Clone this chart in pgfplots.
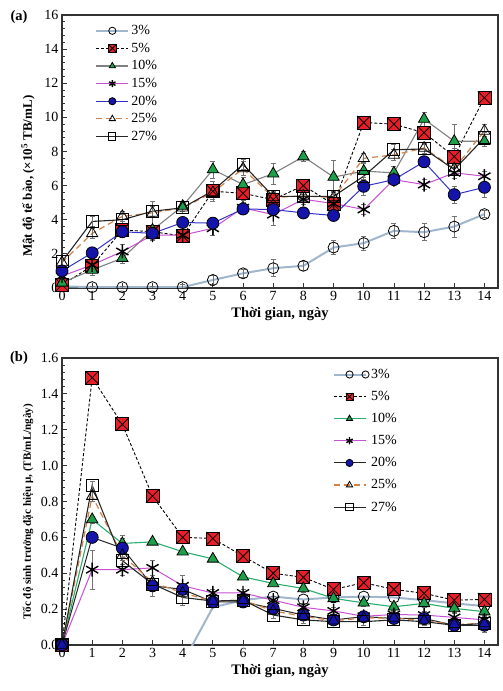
\documentclass[border=0pt]{standalone}
\usepackage{fontspec}
\setmainfont{Liberation Serif}
\usepackage{pgfplots}
\usepackage{pgfplotstable}
\pgfplotsset{compat=1.18}

\definecolor{c3}{RGB}{160,182,205}
\definecolor{cred}{RGB}{232,30,40}
\definecolor{cgreen}{RGB}{30,160,75}
\definecolor{cgl}{RGB}{40,175,110}
\definecolor{cmag}{RGB}{200,80,210}
\definecolor{cblue}{RGB}{20,20,170}
\definecolor{cbl}{RGB}{50,50,200}
\definecolor{corange}{RGB}{210,130,70}
\definecolor{cgray}{RGB}{128,128,128}

\pgfdeclareplotmark{sqx}{%
  \pgfpathrectangle{\pgfqpoint{-\pgfplotmarksize}{-\pgfplotmarksize}}{\pgfqpoint{2\pgfplotmarksize}{2\pgfplotmarksize}}%
  \pgfusepathqfillstroke
  \pgfpathmoveto{\pgfqpoint{-\pgfplotmarksize}{-\pgfplotmarksize}}%
  \pgfpathlineto{\pgfqpoint{\pgfplotmarksize}{\pgfplotmarksize}}%
  \pgfpathmoveto{\pgfqpoint{-\pgfplotmarksize}{\pgfplotmarksize}}%
  \pgfpathlineto{\pgfqpoint{\pgfplotmarksize}{-\pgfplotmarksize}}%
  \pgfusepathqstroke}

\pgfplotstableread{
x a3 e3 a5 e5 a10 e10 a15 e15 a20 e20 a25 e25 a27 e27
0 0.10 0.05 0.18 0.1 0.30 0.1 0.70 0.1 1.00 0.2 1.50 0.2 1.55 0.2
1 0.05 0.05 1.30 0.3 1.06 0.3 1.35 0.3 2.06 0.3 3.20 0.3 3.90 0.3
2 0.05 0.05 3.40 0.3 1.75 0.3 2.14 0.4 3.30 0.3 4.20 0.3 4.00 0.3
3 0.05 0.05 3.30 0.3 3.40 0.3 3.10 0.3 3.20 0.3 4.40 0.7 4.50 0.3
4 0.05 0.15 3.05 0.3 4.80 0.3 3.10 0.3 3.84 0.3 4.70 0.3 4.70 0.3
5 0.47 0.30 5.67 0.6 6.94 0.5 3.50 0.4 3.80 0.3 5.60 0.4 5.70 0.4
6 0.86 0.25 5.55 0.4 6.06 0.4 4.70 0.3 4.63 0.3 7.00 0.4 7.24 0.3
7 1.16 0.50 5.18 0.4 6.70 0.6 4.30 0.6 4.60 0.9 5.30 0.4 5.37 0.3
8 1.30 0.25 6.00 0.3 7.70 0.3 5.20 0.3 4.40 0.3 5.40 0.3 5.37 0.3
9 2.37 0.40 4.90 0.4 6.50 1.0 4.95 0.3 4.25 0.3 5.30 0.3 5.37 0.3
10 2.63 0.40 9.70 0.3 6.85 0.5 4.60 0.3 5.96 0.5 7.60 0.3 6.55 0.3
11 3.35 0.45 9.60 0.3 6.75 0.4 6.35 0.3 6.35 0.3 7.80 0.3 8.10 0.3
12 3.27 0.50 9.10 0.4 9.90 0.4 6.06 0.3 7.40 0.3 8.20 0.3 8.15 0.3
13 3.60 0.60 7.70 0.5 8.60 1.0 6.75 0.3 5.47 0.5 7.00 0.3 6.94 0.3
14 4.33 0.20 11.15 0.3 8.60 0.3 6.55 0.3 5.90 0.6 9.20 0.4 8.80 0.3
}\topdata

\pgfplotstableread{
x b3
4 -0.10
5 0.21
6 0.25
7 0.27
8 0.254
9 0.265
10 0.27
11 0.265
12 0.25
13 0.232
14 0.217
}\botthree

\pgfplotstableread{
x b5 e5 b10 e10 b15 e15 b20 e20 b25 e25 b27 e27
0 0 0 0 0 0 0 0 0 0 0 0 0
1 1.49 0.01 0.70 0.02 0.42 0.11 0.60 0.02 0.83 0.03 0.89 0.02
2 1.23 0.01 0.566 0.03 0.42 0.03 0.54 0.07 0.50 0.03 0.47 0.02
3 0.83 0.01 0.575 0.01 0.43 0.04 0.33 0.06 0.35 0.02 0.34 0.02
4 0.60 0.01 0.52 0.01 0.33 0.06 0.31 0.03 0.29 0.02 0.265 0.045
5 0.594 0.01 0.48 0.01 0.29 0.02 0.24 0.02 0.245 0.02 0.245 0.02
6 0.495 0.01 0.38 0.01 0.29 0.02 0.24 0.02 0.25 0.02 0.25 0.02
7 0.40 0.01 0.343 0.01 0.25 0.02 0.204 0.02 0.19 0.02 0.167 0.02
8 0.377 0.01 0.315 0.02 0.21 0.02 0.167 0.02 0.16 0.02 0.14 0.02
9 0.31 0.01 0.26 0.02 0.19 0.02 0.14 0.02 0.135 0.02 0.13 0.02
10 0.347 0.01 0.235 0.02 0.16 0.02 0.158 0.02 0.15 0.02 0.13 0.02
11 0.31 0.01 0.213 0.02 0.17 0.02 0.148 0.02 0.15 0.02 0.14 0.02
12 0.288 0.01 0.232 0.02 0.167 0.02 0.148 0.02 0.135 0.02 0.13 0.02
13 0.25 0.01 0.204 0.02 0.154 0.02 0.11 0.02 0.115 0.02 0.11 0.02
14 0.254 0.01 0.186 0.02 0.14 0.02 0.11 0.04 0.12 0.02 0.12 0.02
}\botdata

\pgfplotsset{
  common/.style={
    scale only axis, width=436pt,
    xmin=0, xmax=14.45, xtick={0,...,14},
    axis line style={black!80, line width=1.1pt},
    tick style={black!80, line width=0.8pt},
    major tick length=5pt, minor tick length=3pt,
    xtick pos=bottom, ytick pos=left, tick align=inside,
    minor y tick num=4,
    ticklabel style={font=\fontsize{14}{16}\selectfont},
    /pgf/number format/assume math mode=true,
    xlabel={Thời gian, ngày},
    xlabel style={font=\fontsize{14.5}{16}\selectfont\bfseries},
    legend cell align=left,
    legend image code/.code={\draw[mark repeat=2,mark phase=2,##1,mark size=3.6pt] plot coordinates {(0pt,0pt) (16pt,0pt) (32pt,0pt)};},
    eb/.style={error bars/.cd, y dir=both, y explicit,
      error bar style={black!55, line width=0.6pt, solid},
      error mark options={rotate=90, mark size=2.5pt, black!55, line width=0.6pt, solid}},
    s3/.style={color=c3, line width=2pt, mark=o, mark size=5.5pt, mark options={draw=black, line width=0.8pt, solid}},
    s5/.style={color=black, densely dashed, line width=0.9pt, mark=sqx, mark size=6.5pt, mark options={fill=cred, draw=black, line width=0.8pt, solid}},
    s15/.style={color=cmag, line width=1pt, mark=asterisk, mark size=7pt, mark options={draw=black, line width=1.4pt, solid}},
    s25/.style={color=corange, dash pattern=on 6pt off 4pt, line width=1.2pt, mark=triangle, mark size=6.5pt, mark options={draw=black, line width=0.8pt, solid}},
    s27/.style={color=black!85, line width=1.1pt, mark=square, mark size=6pt, mark options={draw=black, line width=0.9pt, solid}},
  }
}

\begin{document}
\begin{tikzpicture}
\path[use as bounding box] (0pt,0pt) rectangle (503pt,691pt);

\begin{axis}[common, at={(62pt,403pt)}, anchor=south west, height=273pt,
  ymin=0, ymax=16, ytick={0,2,...,16},
  legend style={at={(axis description cs:0.076,0.97)}, anchor=north west, draw=none, fill=none,
    font=\fontsize{14}{16}\selectfont, row sep=2.8pt, inner sep=0pt},
]
\addplot[s3, eb] table[x=x, y=a3, y error=e3] {\topdata};
\addlegendentry{3\%}
\addplot[s5, eb] table[x=x, y=a5, y error=e5] {\topdata};
\addlegendentry{5\%}
\addplot[color=cgray, line width=1.1pt, mark=triangle*, mark size=6.5pt, mark options={fill=cgreen, draw=black, line width=0.8pt, solid}, eb] table[x=x, y=a10, y error=e10] {\topdata};
\addlegendentry{10\%}
\addplot[s15, eb] table[x=x, y=a15, y error=e15] {\topdata};
\addlegendentry{15\%}
\addplot[color=cbl, line width=1pt, mark=*, mark size=6pt, mark options={fill=cblue, draw=black, line width=0.8pt, solid}, eb] table[x=x, y=a20, y error=e20] {\topdata};
\addlegendentry{20\%}
\addplot[s25, eb] table[x=x, y=a25, y error=e25] {\topdata};
\addlegendentry{25\%}
\addplot[s27, eb] table[x=x, y=a27, y error=e27] {\topdata};
\addlegendentry{27\%}
\end{axis}

\begin{axis}[common, at={(62pt,46pt)}, anchor=south west, height=287pt,
  ymin=0, ymax=1.6, ytick={0,0.2,...,1.6},
  yticklabel style={/pgf/number format/.cd, fixed, fixed zerofill, precision=1},
  legend style={at={(axis description cs:0.62,0.969)}, anchor=north west, draw=none, fill=none,
    font=\fontsize{14}{16}\selectfont, row sep=7.3pt, inner sep=0pt},
]
\addplot[s3, mark indices={2,...,11}] table[x=x, y=b3] {\botthree};
\addlegendentry{3\%}
\addplot[s5, eb] table[x=x, y=b5, y error=e5] {\botdata};
\addlegendentry{5\%}
\addplot[color=cgl, line width=1.1pt, mark=triangle*, mark size=6.5pt, mark options={fill=cgreen, draw=black, line width=0.8pt, solid}, eb] table[x=x, y=b10, y error=e10] {\botdata};
\addlegendentry{10\%}
\addplot[s15, eb] table[x=x, y=b15, y error=e15] {\botdata};
\addlegendentry{15\%}
\addplot[color=black!85, line width=1pt, mark=*, mark size=6pt, mark options={fill=cblue, draw=black, line width=0.8pt, solid}, eb] table[x=x, y=b20, y error=e20] {\botdata};
\addlegendentry{20\%}
\addplot[s25, eb] table[x=x, y=b25, y error=e25] {\botdata};
\addlegendentry{25\%}
\addplot[s27, eb] table[x=x, y=b27, y error=e27] {\botdata};
\addlegendentry{27\%}
\end{axis}

\node[font=\fontsize{14.5}{16}\selectfont\bfseries, anchor=center] at (19pt,674pt) {(a)};
\node[font=\fontsize{13}{15}\selectfont\bfseries, rotate=90, anchor=west, inner sep=0pt] at (28pt,434pt) {Mật độ tế bào, (×10\textsuperscript{5} TB/mL)};
\node[font=\fontsize{14.5}{16}\selectfont\bfseries, anchor=center] at (19pt,333pt) {(b)};
\node[font=\fontsize{11.1}{13}\selectfont\bfseries, rotate=90, anchor=west, inner sep=0pt] at (28pt,71pt) {Tốc độ sinh trưởng đặc hiệu μ, (TB/mL/ngày)};
\end{tikzpicture}
\end{document}
